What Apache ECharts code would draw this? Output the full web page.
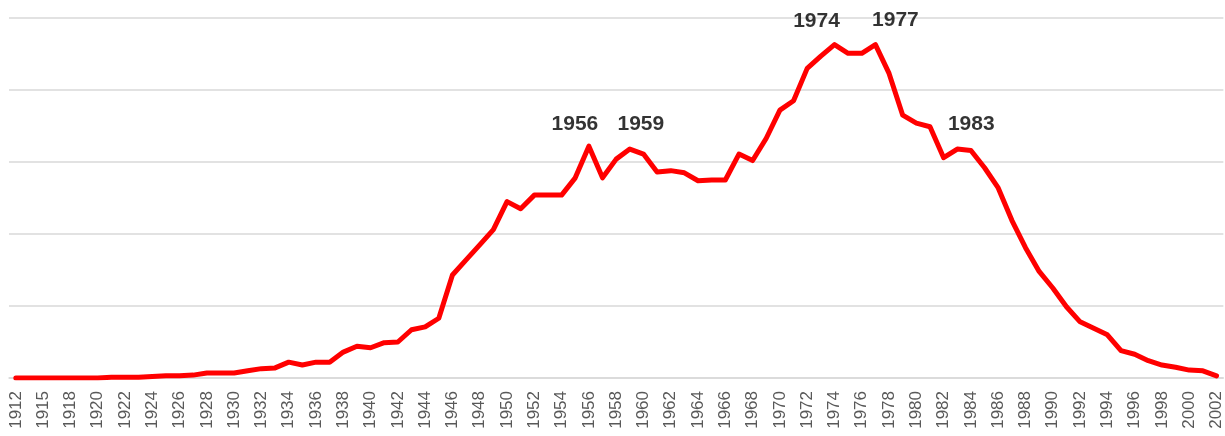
<!DOCTYPE html>
<html>
<head>
<meta charset="utf-8">
<script src="https://cdn.jsdelivr.net/npm/echarts@6/dist/echarts.min.js"></script>
<style>
html,body{margin:0;padding:0;background:#fff;}
#chart{width:1225px;height:436px;}
</style>
</head>
<body>
<div id="chart"></div>
<script>
var years = ['1912','1914','1915','1917','1918','1919','1920','1921','1922','1923','1924','1925','1926','1927','1928','1929','1930','1931','1932','1933','1934','1935','1936','1937','1938','1939','1940','1941','1942','1943','1944','1945','1946','1947','1948','1949','1950','1951','1952','1953','1954','1955','1956','1957','1958','1959','1960','1961','1962','1963','1964','1965','1966','1967','1968','1969','1970','1971','1972','1973','1974','1975','1976','1977','1978','1979','1980','1981','1982','1983','1984','1985','1986','1987','1988','1989','1990','1991','1992','1993','1994','1995','1996','1997','1998','1999','2000','2001','2002'];
var values = [0,0,0,0,0,0,0,1,1,1,2,3,3,4,7,7,7,10,13,14,22,18,22,22,36,44,42,49,50,67,71,83,143,164,185,206,245,235,254,254,254,278,322,278,304,318,311,286,288,285,274,275,275,311,302,333,372,385,430,447,463,451,451,463,423,365,354,349,306,318,316,292,264,219,181,148,125,99,78,69,60,38,33,24,18,15,11,10,3];
var labelYears = ['1956','1959','1974','1977','1983'];
var labelOffsets = [[-14,-11],[11,-14],[-18,-13],[20,-14],[14,-14]];

var labelData = labelYears.map(function(y, k){
  return {
    value: [y, values[years.indexOf(y)]],
    label: {offset: labelOffsets[k]}
  };
});

var chart = echarts.init(document.getElementById('chart'), null, {renderer:'canvas'});
chart.setOption({
  animation: false,
  backgroundColor: '#ffffff',
  grid: {left: 9, top: 18, width: 1219, height: 360, containLabel: false},
  xAxis: {
    type: 'category',
    data: years,
    boundaryGap: true,
    axisLine: {show: true, lineStyle: {color: '#d9d9d9', width: 1.5}},
    axisTick: {show: false},
    axisLabel: {interval: 1, rotate: 90, margin: 13, color: '#595959', fontFamily: 'Liberation Sans', fontSize: 17}
  },
  yAxis: {
    type: 'value',
    min: 0, max: 500, interval: 100,
    axisLabel: {show: false},
    axisLine: {show: false},
    axisTick: {show: false},
    splitLine: {lineStyle: {color: '#d9d9d9', width: 1.5}}
  },
  series: [
    {
      type: 'line',
      data: values,
      showSymbol: false,
      symbol: 'none',
      lineStyle: {color: '#ff0000', width: 5, join: 'round', cap: 'round'},
      z: 3
    },
    {
      type: 'scatter',
      data: labelData,
      symbolSize: 0,
      silent: true,
      label: {
        show: true,
        position: 'top',
        distance: 0,
        formatter: function(p){ return p.value[0]; },
        color: '#000000',
        textBorderWidth: 0,
        fontFamily: 'Liberation Sans',
        fontWeight: 'bold',
        fontSize: 21
      },
      z: 4
    }
  ]
});
</script>
</body>
</html>
